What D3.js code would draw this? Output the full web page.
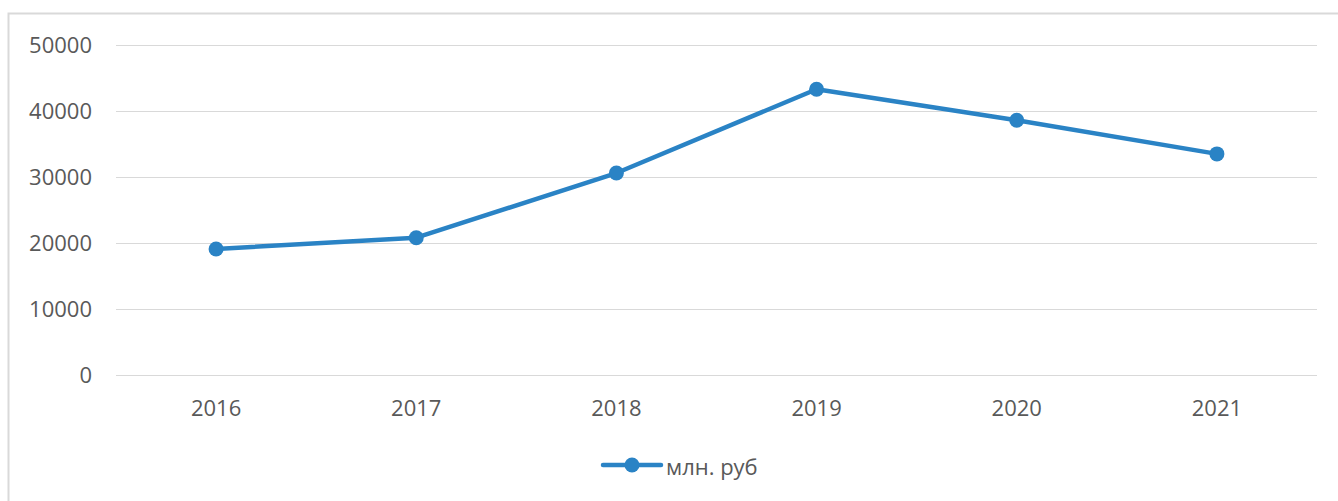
<!DOCTYPE html>
<html>
<head>
<meta charset="utf-8">
<script src="https://cdn.jsdelivr.net/npm/d3@7"></script>
<style>
  body { margin: 0; background: #fff; }
  text { font-family: "Open Sans", "Noto Sans", sans-serif; fill: #595959; }
</style>
</head>
<body>
<div id="container"></div>
<script>
const width = 1338;
const height = 501;

const years = ["2016", "2017", "2018", "2019", "2020", "2021"];
const values = [19100, 20800, 30600, 43300, 38600, 33500];
const yTicks = [0, 10000, 20000, 30000, 40000, 50000];
const seriesName = "млн. руб";
const color = "#2a83c5";

const margin = { top: 45, right: 21, bottom: 126, left: 116 };

const svg = d3.select("#container").append("svg")
    .attr("width", width)
    .attr("height", height);

// chart frame (only top and left edges are visible)
svg.append("rect")
    .attr("x", 8.5).attr("y", 13.5)
    .attr("width", width + 20).attr("height", height + 20)
    .attr("fill", "none")
    .attr("stroke", "#d9d9d9")
    .attr("stroke-width", 2);

const x = d3.scaleBand()
    .domain(years)
    .range([margin.left, width - margin.right]);

const y = d3.scaleLinear()
    .domain([0, 50000])
    .range([height - margin.bottom, margin.top]);

// gridlines
svg.append("g")
    .selectAll("line")
    .data(yTicks)
    .enter()
    .append("line")
    .attr("x1", margin.left)
    .attr("x2", width - margin.right)
    .attr("y1", d => Math.round(y(d)) + 0.5)
    .attr("y2", d => Math.round(y(d)) + 0.5)
    .attr("stroke", "#d9d9d9")
    .attr("stroke-width", 1);

// y labels
svg.append("g")
    .selectAll("text")
    .data(yTicks)
    .enter()
    .append("text")
    .attr("x", 92)
    .attr("y", d => y(d))
    .attr("dy", "0.35em")
    .attr("text-anchor", "end")
    .style("font-size", "22px")
    .text(d => d);

// x labels
svg.append("g")
    .selectAll("text")
    .data(years)
    .enter()
    .append("text")
    .attr("x", d => x(d) + x.bandwidth() / 2)
    .attr("y", 408)
    .attr("dy", "0.35em")
    .attr("text-anchor", "middle")
    .style("font-size", "22px")
    .text(d => d);

const pts = years.map((d, i) => ({ year: d, value: values[i] }));

const line = d3.line()
    .x(d => x(d.year) + x.bandwidth() / 2)
    .y(d => y(d.value));

svg.append("path")
    .datum(pts)
    .attr("d", line)
    .attr("fill", "none")
    .attr("stroke", color)
    .attr("stroke-width", 4.5)
    .attr("stroke-linejoin", "round");

svg.append("g")
    .selectAll("circle")
    .data(pts)
    .enter()
    .append("circle")
    .attr("cx", d => x(d.year) + x.bandwidth() / 2)
    .attr("cy", d => y(d.value))
    .attr("r", 7.5)
    .attr("fill", color);

// legend
const legend = svg.append("g").attr("transform", "translate(0,465)");
legend.append("line")
    .attr("x1", 603).attr("x2", 661)
    .attr("y1", 0).attr("y2", 0)
    .attr("stroke", color)
    .attr("stroke-width", 4.5)
    .attr("stroke-linecap", "round");
legend.append("circle")
    .attr("cx", 632).attr("cy", 0)
    .attr("r", 7.5)
    .attr("fill", color);
legend.append("text")
    .attr("x", 666)
    .attr("y", 2)
    .attr("dy", "0.35em")
    .style("font-size", "22px")
    .text(seriesName);
</script>
</body>
</html>
